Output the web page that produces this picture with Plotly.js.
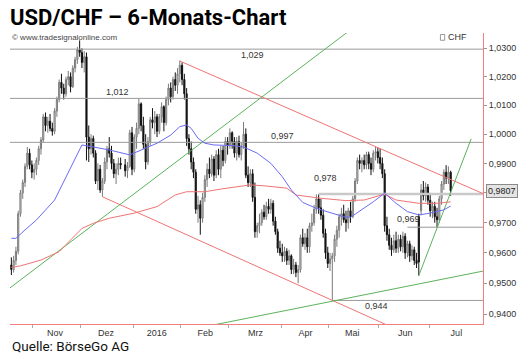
<!DOCTYPE html>
<html><head><meta charset="utf-8">
<script src="https://cdn.plot.ly/plotly-3.0.1.min.js"></script>
<style>html,body{margin:0;padding:0;background:#fff}#chart{width:525px;height:363px}</style>
</head><body><div id="chart"></div>
<script>
// ---- daily OHLC ----
const dates = ['2015-10-19','2015-10-20','2015-10-21','2015-10-22','2015-10-23','2015-10-26','2015-10-27','2015-10-28','2015-10-29','2015-10-30',
'2015-11-02','2015-11-03','2015-11-04','2015-11-05','2015-11-06','2015-11-09','2015-11-10','2015-11-11','2015-11-12','2015-11-13','2015-11-16','2015-11-17','2015-11-18','2015-11-19','2015-11-20','2015-11-23','2015-11-24','2015-11-25','2015-11-26','2015-11-27','2015-11-30',
'2015-12-01','2015-12-02','2015-12-03','2015-12-04','2015-12-07','2015-12-08','2015-12-09','2015-12-10','2015-12-11','2015-12-14','2015-12-15','2015-12-16','2015-12-17','2015-12-18','2015-12-21','2015-12-22','2015-12-23','2015-12-24','2015-12-28','2015-12-29','2015-12-30','2015-12-31',
'2016-01-01','2016-01-04','2016-01-05','2016-01-06','2016-01-07','2016-01-08','2016-01-11','2016-01-12','2016-01-13','2016-01-14','2016-01-15','2016-01-18','2016-01-19','2016-01-20','2016-01-21','2016-01-22','2016-01-25','2016-01-26','2016-01-27','2016-01-28','2016-01-29',
'2016-02-01','2016-02-02','2016-02-03','2016-02-04','2016-02-05','2016-02-08','2016-02-09','2016-02-10','2016-02-11','2016-02-12','2016-02-15','2016-02-16','2016-02-17','2016-02-18','2016-02-19','2016-02-22','2016-02-23','2016-02-24','2016-02-25','2016-02-26','2016-02-29',
'2016-03-01','2016-03-02','2016-03-03','2016-03-04','2016-03-07','2016-03-08','2016-03-09','2016-03-10','2016-03-11','2016-03-14','2016-03-15','2016-03-16','2016-03-17','2016-03-18','2016-03-21','2016-03-22','2016-03-23','2016-03-24','2016-03-25','2016-03-28','2016-03-29','2016-03-30','2016-03-31',
'2016-04-01','2016-04-04','2016-04-05','2016-04-06','2016-04-07','2016-04-08','2016-04-11','2016-04-12','2016-04-13','2016-04-14','2016-04-15','2016-04-18','2016-04-19','2016-04-20','2016-04-21','2016-04-22','2016-04-25','2016-04-26','2016-04-27','2016-04-28','2016-04-29',
'2016-05-02','2016-05-03','2016-05-04','2016-05-05','2016-05-06','2016-05-09','2016-05-10','2016-05-11','2016-05-12','2016-05-13','2016-05-16','2016-05-17','2016-05-18','2016-05-19','2016-05-20','2016-05-23','2016-05-24','2016-05-25','2016-05-26','2016-05-27','2016-05-30','2016-05-31',
'2016-06-01','2016-06-02','2016-06-03','2016-06-06','2016-06-07','2016-06-08','2016-06-09','2016-06-10','2016-06-13','2016-06-14','2016-06-15','2016-06-16','2016-06-17','2016-06-20','2016-06-21','2016-06-22','2016-06-23','2016-06-24','2016-06-27','2016-06-28','2016-06-29','2016-06-30',
'2016-07-01','2016-07-04','2016-07-05','2016-07-06','2016-07-07','2016-07-08','2016-07-11','2016-07-12','2016-07-13','2016-07-14'];
const openV = [0.9560,0.9545,0.9575,0.9605,0.9730,0.9800,0.9835,0.9890,0.9935,0.9895,
0.9870,0.9880,0.9910,0.9950,0.9980,1.0060,1.0030,1.0045,1.0020,1.0010,1.0080,1.0120,1.0180,1.0160,1.0140,1.0190,1.0200,1.0165,1.0230,1.0260,1.0295,
1.0285,1.0250,1.0270,0.9990,0.9950,0.9985,0.9935,0.9840,0.9880,0.9810,0.9840,0.9905,0.9950,0.9935,0.9900,0.9865,0.9880,0.9900,0.9895,0.9875,0.9890,1.0005,
0.9880,0.9990,1.0020,1.0105,1.0030,0.9965,0.9905,0.9975,1.0050,1.0040,1.0060,1.0010,1.0060,1.0095,1.0040,1.0120,1.0160,1.0130,1.0190,1.0170,1.0210,
1.0240,1.0190,1.0140,0.9985,0.9950,0.9905,0.9870,0.9745,0.9760,0.9715,0.9785,0.9845,0.9880,0.9865,0.9915,0.9860,0.9930,0.9880,0.9945,0.9910,0.9975,
0.9960,1.0005,0.9975,0.9935,0.9975,0.9930,0.9960,1.0000,0.9860,0.9835,0.9865,0.9785,0.9670,0.9690,0.9700,0.9735,0.9720,0.9755,0.9745,0.9765,0.9705,0.9670,0.9615,
0.9600,0.9590,0.9605,0.9575,0.9590,0.9545,0.9560,0.9535,0.9545,0.9650,0.9630,0.9650,0.9620,0.9690,0.9700,0.9745,0.9780,0.9750,0.9725,0.9665,0.9600,
0.9565,0.9580,0.9590,0.9645,0.9675,0.9720,0.9730,0.9710,0.9700,0.9740,0.9720,0.9780,0.9840,0.9910,0.9900,0.9910,0.9895,0.9930,0.9900,0.9880,0.9935,0.9940,
0.9920,0.9900,0.9865,0.9690,0.9660,0.9625,0.9610,0.9640,0.9615,0.9645,0.9620,0.9655,0.9600,0.9630,0.9590,0.9610,0.9575,0.9720,0.9740,0.9810,0.9790,0.9820,
0.9775,0.9740,0.9755,0.9720,0.9710,0.9780,0.9830,0.9870,0.9850,0.9870];
const highV = [0.9585,0.9590,0.9620,0.9740,0.9810,0.9845,0.9900,0.9956,0.9950,0.9910,
0.9900,0.9920,0.9960,0.9990,1.0070,1.0075,1.0060,1.0070,1.0040,1.0090,1.0130,1.0190,1.0210,1.0175,1.0200,1.0220,1.0215,1.0240,1.0270,1.0305,1.0328,
1.0300,1.0290,1.0285,1.0030,1.0000,0.9995,0.9945,0.9900,0.9895,0.9850,0.9920,0.9960,0.9990,0.9960,0.9915,0.9900,0.9920,0.9920,0.9915,0.9905,1.0015,1.0025,
1.0000,1.0040,1.0124,1.0110,1.0060,1.0000,0.9990,1.0060,1.0090,1.0080,1.0070,1.0070,1.0110,1.0100,1.0130,1.0175,1.0180,1.0200,1.0215,1.0230,1.0257,
1.0250,1.0210,1.0160,1.0000,0.9975,0.9920,0.9880,0.9790,0.9775,0.9800,0.9860,0.9900,0.9920,0.9930,0.9925,0.9945,0.9950,0.9960,0.9960,0.9990,0.9990,
1.0020,1.0010,0.9990,0.9990,0.9995,0.9970,1.0042,1.0020,0.9890,0.9880,0.9880,0.9835,0.9700,0.9730,0.9745,0.9760,0.9770,0.9780,0.9780,0.9775,0.9720,0.9680,0.9640,
0.9630,0.9620,0.9615,0.9610,0.9595,0.9580,0.9570,0.9560,0.9660,0.9680,0.9665,0.9680,0.9700,0.9730,0.9760,0.9795,0.9795,0.9780,0.9745,0.9680,0.9620,
0.9600,0.9600,0.9660,0.9690,0.9730,0.9750,0.9760,0.9740,0.9750,0.9770,0.9790,0.9850,0.9920,0.9930,0.9920,0.9930,0.9940,0.9940,0.9920,0.9945,0.9957,0.9955,
0.9950,0.9920,0.9880,0.9720,0.9680,0.9650,0.9660,0.9670,0.9660,0.9660,0.9670,0.9665,0.9640,0.9640,0.9625,0.9620,0.9600,0.9730,0.9830,0.9840,0.9835,0.9830,
0.9800,0.9770,0.9770,0.9750,0.9790,0.9840,0.9880,0.9894,0.9890,0.9875];
const lowV = [0.9527,0.9535,0.9560,0.9595,0.9720,0.9780,0.9820,0.9880,0.9880,0.9850,
0.9845,0.9860,0.9895,0.9930,0.9970,1.0010,1.0005,1.0010,0.9995,1.0000,1.0060,1.0110,1.0140,1.0120,1.0130,1.0170,1.0145,1.0160,1.0215,1.0245,1.0270,
1.0230,1.0215,0.9910,0.9905,0.9930,0.9920,0.9830,0.9810,0.9800,0.9787,0.9830,0.9880,0.9920,0.9880,0.9850,0.9830,0.9860,0.9880,0.9855,0.9850,0.9885,0.9860,
0.9870,0.9950,1.0000,1.0010,0.9950,0.9880,0.9895,0.9960,1.0020,1.0000,0.9990,1.0000,1.0040,1.0010,1.0030,1.0100,1.0110,1.0120,1.0150,1.0140,1.0180,
1.0170,1.0120,0.9960,0.9930,0.9880,0.9850,0.9730,0.9700,0.9660,0.9700,0.9770,0.9820,0.9850,0.9855,0.9840,0.9850,0.9860,0.9850,0.9890,0.9900,0.9930,
0.9950,0.9950,0.9920,0.9910,0.9920,0.9910,0.9950,0.9850,0.9820,0.9820,0.9770,0.9650,0.9650,0.9665,0.9690,0.9710,0.9710,0.9730,0.9730,0.9690,0.9660,0.9600,0.9590,
0.9570,0.9570,0.9560,0.9560,0.9530,0.9530,0.9520,0.9500,0.9535,0.9620,0.9610,0.9600,0.9600,0.9670,0.9690,0.9730,0.9730,0.9710,0.9650,0.9580,0.9550,
0.9540,0.9444,0.9570,0.9620,0.9650,0.9690,0.9700,0.9670,0.9680,0.9700,0.9715,0.9770,0.9830,0.9880,0.9870,0.9880,0.9880,0.9880,0.9860,0.9870,0.9910,0.9900,
0.9880,0.9850,0.9670,0.9640,0.9610,0.9590,0.9600,0.9600,0.9600,0.9605,0.9600,0.9580,0.9585,0.9570,0.9575,0.9560,0.9550,0.9525,0.9725,0.9775,0.9770,0.9760,
0.9720,0.9715,0.9700,0.9685,0.9700,0.9760,0.9810,0.9830,0.9830,0.9790];
const closeV = [0.9545,0.9575,0.9605,0.9730,0.9800,0.9835,0.9890,0.9935,0.9895,0.9870,
0.9880,0.9910,0.9950,0.9980,1.0060,1.0030,1.0045,1.0020,1.0010,1.0080,1.0120,1.0180,1.0160,1.0140,1.0190,1.0200,1.0165,1.0230,1.0260,1.0295,1.0285,
1.0250,1.0270,0.9990,0.9950,0.9985,0.9935,0.9840,0.9880,0.9810,0.9840,0.9905,0.9950,0.9935,0.9900,0.9865,0.9880,0.9900,0.9895,0.9875,0.9890,1.0005,0.9880,
0.9990,1.0020,1.0105,1.0030,0.9965,0.9905,0.9975,1.0050,1.0040,1.0060,1.0010,1.0060,1.0095,1.0040,1.0120,1.0160,1.0130,1.0190,1.0170,1.0210,1.0240,
1.0190,1.0140,0.9985,0.9950,0.9905,0.9870,0.9745,0.9760,0.9715,0.9785,0.9845,0.9880,0.9865,0.9915,0.9860,0.9930,0.9880,0.9945,0.9910,0.9975,0.9960,
1.0005,0.9975,0.9935,0.9975,0.9930,0.9960,1.0000,0.9860,0.9835,0.9865,0.9785,0.9670,0.9690,0.9700,0.9735,0.9720,0.9755,0.9745,0.9765,0.9705,0.9670,0.9615,0.9600,
0.9590,0.9605,0.9575,0.9590,0.9545,0.9560,0.9535,0.9545,0.9650,0.9630,0.9650,0.9620,0.9690,0.9700,0.9745,0.9780,0.9750,0.9725,0.9665,0.9600,0.9565,
0.9580,0.9590,0.9645,0.9675,0.9720,0.9730,0.9710,0.9700,0.9740,0.9720,0.9780,0.9840,0.9910,0.9900,0.9910,0.9895,0.9930,0.9900,0.9880,0.9935,0.9940,0.9920,
0.9900,0.9865,0.9690,0.9660,0.9625,0.9610,0.9640,0.9615,0.9645,0.9620,0.9655,0.9600,0.9630,0.9590,0.9610,0.9575,0.9565,0.9570,0.9810,0.9790,0.9820,0.9775,
0.9740,0.9755,0.9720,0.9710,0.9780,0.9830,0.9870,0.9850,0.9870,0.9807];

// ---- indicator lines ----
const blueMaX = ['2015-10-19','2015-10-21','2015-10-27','2015-11-03','2015-11-13','2015-11-23','2015-11-27','2015-12-01','2015-12-08','2015-12-17','2015-12-30','2016-01-07','2016-01-15','2016-01-25','2016-01-29','2016-02-03','2016-02-05','2016-02-10','2016-02-15','2016-02-19','2016-03-02','2016-03-09','2016-03-17','2016-03-25','2016-04-01','2016-04-07','2016-04-14','2016-04-22','2016-05-02','2016-05-10','2016-05-13','2016-05-23','2016-05-27','2016-06-03','2016-06-10','2016-06-17','2016-06-24','2016-07-01','2016-07-11','2016-07-14'];
const blueMaY = [0.9648,0.9648,0.9676,0.9709,0.9776,0.9867,0.9929,0.9963,0.9956,0.9946,0.9929,0.9949,0.9969,0.9997,1.0026,1.0032,1.0020,0.9986,0.9969,0.9963,0.9961,0.9956,0.9935,0.9900,0.9855,0.9810,0.9768,0.9748,0.9734,0.9720,0.9718,0.9748,0.9770,0.9799,0.9765,0.9737,0.9726,0.9732,0.9743,0.9756];
const redMaX = ['2015-10-19','2015-10-23','2015-11-05','2015-11-17','2015-12-01','2015-12-08','2015-12-17','2016-01-01','2016-01-15','2016-01-27','2016-02-03','2016-02-15','2016-02-24','2016-03-14','2016-03-22','2016-04-05','2016-04-11','2016-04-26','2016-05-11','2016-05-23','2016-06-03','2016-06-10','2016-06-24','2016-07-06','2016-07-14'];
const redMaY = [0.9552,0.9557,0.9576,0.9604,0.9681,0.9698,0.9715,0.9732,0.9754,0.9793,0.9804,0.9804,0.9813,0.9827,0.9824,0.9816,0.9793,0.9782,0.9774,0.9776,0.9796,0.9776,0.9765,0.9765,0.9770];

// ---- trend lines ----
const redUpperX = ['2016-01-29','2016-08-04'], redUpperY = [1.0255, 0.9795];
const redLowerX = ['2015-12-14','2016-06-13'], redLowerY = [0.9787, 0.9348];
const greenLongX = ['2015-10-15','2016-05-16'], greenLongY = [0.9477, 1.0372];
const greenLowX = ['2016-01-27','2016-08-04'], greenLowY = [0.9340, 0.9541];
const greenSteepX = ['2016-06-24','2016-07-27'], greenSteepY = [0.9525, 0.9984];

// ---- horizontal levels ----
const levelVals = [1.0297, 1.0124, 0.9972, 0.9796, 0.9685, 0.9444];
const levelLabels = ['1,029','1,012','0,997','0,978','0,969','0,944'];
const levelStart = ['2015-10-15','2015-10-15','2015-10-15','2016-04-25','2016-06-17','2016-05-03'];
const levelEnd = '2016-08-04';
const levelLabelX = ['2016-03-14 19:00','2015-12-22 14:00','2016-03-31 22:00','2016-04-28 05:00','2016-06-17 07:00','2016-05-30 05:00'];

// ---- axis labels ----
const yTickVals = [0.94,0.95,0.96,0.97,0.98,0.99,1.00,1.01,1.02,1.03];
const yTickText = ['0,9400','0,9500','0,9600','0,9700','','0,9900','1,0000','1,0100','1,0200','1,0300'];
const monthLabelPos = ['2015-11-13 05:00','2015-12-15 14:00','2016-01-14 22:00','2016-02-15 05:00','2016-03-16 07:00','2016-04-15 05:00','2016-05-13 17:00','2016-06-16','2016-07-18 12:00'];
const monthLabels = ['Nov','Dez','2016','Feb','Mrz','Apr','Mai','Jun','Jul'];
const monthStarts = ['2015-10-30 12:00','2015-11-30 12:00','2015-12-31 12:00','2016-01-29 12:00','2016-02-29 12:00','2016-03-31 12:00','2016-04-29 12:00','2016-05-31 12:00','2016-06-30 12:00'];
const lastPrice = 0.9807, lastPriceText = '0,9807';

const traces = [];
traces.push({type:'candlestick', x:dates, open:openV, high:highV, low:lowV, close:closeV,
  increasing:{line:{color:'#7a7a7a',width:1}, fillcolor:'#e4e4e4'},
  decreasing:{line:{color:'#111111',width:1}, fillcolor:'#111111'},
  whiskerwidth:0, hoverinfo:'skip', showlegend:false});
levelVals.forEach((v,i)=>{
  const light = (levelLabels[i]==='0,978');
  traces.push({type:'scatter', mode:'lines', x:[levelStart[i], levelEnd], y:[v,v],
    line:{color: light ? '#c9c9c9' : '#9a9a9a', width: light ? 2.5 : 1}, hoverinfo:'skip', showlegend:false});
});
const lineSpec = [[redUpperX,redUpperY,'#f07474'],[redLowerX,redLowerY,'#f07474'],
  [greenLongX,greenLongY,'#5cb25c'],[greenLowX,greenLowY,'#5cb25c'],[greenSteepX,greenSteepY,'#5cb25c']];
lineSpec.forEach(s=>traces.push({type:'scatter', mode:'lines', x:s[0], y:s[1], line:{color:s[2], width:1}, hoverinfo:'skip', showlegend:false}));
traces.push({type:'scatter', mode:'lines', x:redMaX, y:redMaY, line:{color:'#f07474', width:1}, hoverinfo:'skip', showlegend:false});
traces.push({type:'scatter', mode:'lines', x:blueMaX, y:blueMaY, line:{color:'#6b6bf5', width:1}, hoverinfo:'skip', showlegend:false});

const labelShift = [-6, 6.5, 6.5, 16, 8, -5.5];
const annotations = levelLabels.map((t,i)=>({x:levelLabelX[i], y:Math.log10(levelVals[i]), xref:'x', yref:'y',
  text:t, showarrow:false, xanchor:'center', yanchor:'middle', yshift:labelShift[i],
  font:{family:'Liberation Sans, Arial, sans-serif', size:9, color:'#333'}}));
annotations.push({xref:'paper', yref:'y', x:1, y:Math.log10(lastPrice), xanchor:'left', yanchor:'middle', xshift:3,
  text:lastPriceText, showarrow:false, bgcolor:'#e4e4e4', bordercolor:'#8a8a8a', borderwidth:1, borderpad:1,
  font:{family:'Liberation Sans, Arial, sans-serif', size:9, color:'#222'}});
annotations.push({xref:'paper', yref:'paper', x:0, y:1, xanchor:'left', yanchor:'middle', yshift:-4,
  text:'© www.tradesignalonline.com', showarrow:false, font:{family:'Liberation Sans, Arial, sans-serif', size:8, color:'#444'}});
annotations.push({xref:'paper', yref:'paper', x:1, y:1, xanchor:'left', yanchor:'middle', yshift:-4, xshift:-37,
  text:'CHF', showarrow:false, font:{family:'Liberation Sans, Arial, sans-serif', size:9, color:'#333'}});
annotations.push({xref:'paper', yref:'paper', x:0, y:-0.076, xanchor:'left', yanchor:'middle',
  text:'Quelle: BörseGo AG', showarrow:false, font:{family:'Liberation Sans Narrow, Roboto, sans-serif', size:13.5, color:'#111'}});

const layout = {
  width:525, height:363, margin:{l:10, r:42, t:33, b:39}, paper_bgcolor:'#fff', plot_bgcolor:'#fff',
  title:{text:'<b>USD/CHF – 6-Monats-Chart</b>', x:10/525, xanchor:'left', y:1-17/363, yanchor:'middle', yref:'container',
    font:{family:'Liberation Sans Narrow, Roboto, sans-serif', size:22, color:'#000'}},
  showlegend:false,
  xaxis:{type:'date', rangebreaks:[{bounds:['sat','mon']}], range:['2015-10-16 09:36','2016-08-03 04:48'],
    rangeslider:{visible:false}, showgrid:false, zeroline:false, showline:true, linecolor:'#f08080', linewidth:1,
    tickmode:'array', tickvals:monthLabelPos, ticktext:monthLabels, ticks:'', ticklen:0,
    tickfont:{family:'Liberation Sans, Arial, sans-serif', size:9, color:'#333'},
    minor:{tickmode:'array', tickvals:monthStarts, ticks:'outside', ticklen:3, tickcolor:'#aaa', showgrid:false},
    fixedrange:true},
  yaxis:{type:'log', side:'right', range:[Math.log10(0.93677), Math.log10(1.03544)],
    tickmode:'array', tickvals:yTickVals, ticktext:yTickText, ticks:'outside', ticklen:3, tickcolor:'#999',
    showgrid:false, zeroline:false, showline:true, linecolor:'#f08080', linewidth:1,
    tickfont:{family:'Liberation Sans, Arial, sans-serif', size:9, color:'#333'}, fixedrange:true},
  shapes:[{type:'rect', xref:'paper', yref:'paper', x0:0.910, x1:0.919, y0:0.975, y1:0.995, line:{color:'#999', width:1}}],
  annotations:annotations
};
Plotly.newPlot('chart', traces, layout, {displayModeBar:false, staticPlot:true});
</script></body></html>
